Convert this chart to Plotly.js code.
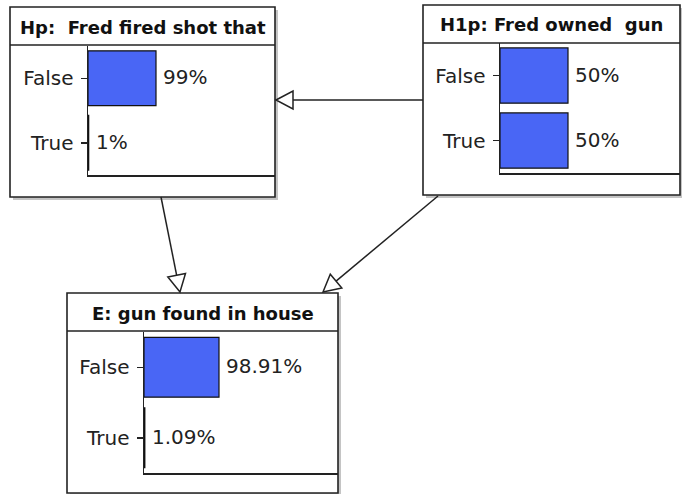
<!DOCTYPE html>
<html>
<head>
<meta charset="utf-8">
<script src="https://cdn.plot.ly/plotly-3.0.1.min.js"></script>
<style>html,body{margin:0;padding:0;background:#fff;}#chart{width:682px;height:494px;}</style>
</head>
<body>
<div id="chart"></div>
<script>
// ---- data ----
const states = ['False', 'True'];
const hpTitle = 'Hp:  Fred fired shot that';
const h1pTitle = 'H1p: Fred owned  gun';
const eTitle = 'E: gun found in house';
const hpValues = [99, 1];
const h1pValues = [50, 50];
const eValues = [98.91, 1.09];

// ---- layout geometry (pixels) ----
const W = 682, H = 494;
const px = x => x / W;
const py = y => 1 - y / H;
const ink = '#222';
const barColor = '#4966F5';

const nodeDefs = [
  {title: hpTitle, values: hpValues, box: [10, 7, 275, 197], sep: 45, plot: [88, 46, 275, 175], barPx: 68, ref: 99, ax: ''},
  {title: h1pTitle, values: h1pValues, box: [423, 5, 680, 195], sep: 43, plot: [500, 43, 680, 173], barPx: 68, ref: 50, ax: '2'},
  {title: eTitle, values: eValues, box: [67, 293, 338, 493], sep: 331, plot: [144, 332, 338, 473], barPx: 75, ref: 98.91, ax: '3'}
];

const shapes = [];
const annotations = [];
const traces = [];
const layout = {
  width: W, height: H,
  margin: {l: 0, r: 0, t: 0, b: 0},
  paper_bgcolor: '#fff',
  plot_bgcolor: 'rgba(0,0,0,0)',
  showlegend: false,
  shapes: shapes,
  annotations: annotations
};

nodeDefs.forEach(n => {
  const [bx0, by0, bx1, by1] = n.box;
  // shadow
  shapes.push({type: 'rect', xref: 'paper', yref: 'paper', layer: 'below',
    x0: px(bx0 + 3), x1: px(bx1 + 3), y0: py(by1 + 3), y1: py(by0 + 3),
    fillcolor: '#c4c4c4', line: {width: 0}});
  // box
  shapes.push({type: 'rect', xref: 'paper', yref: 'paper', layer: 'below',
    x0: px(bx0), x1: px(bx1), y0: py(by1), y1: py(by0),
    fillcolor: '#fff', line: {color: ink, width: 1.6}});
  // title separator
  shapes.push({type: 'line', xref: 'paper', yref: 'paper', layer: 'below',
    x0: px(bx0), x1: px(bx1), y0: py(n.sep), y1: py(n.sep),
    line: {color: ink, width: 1.4}});
  // title
  annotations.push({xref: 'paper', yref: 'paper', x: px((bx0 + bx1) / 2), y: py((by0 + n.sep) / 2 + 1),
    xanchor: 'center', yanchor: 'middle', showarrow: false,
    text: '<b>' + n.title.replace(/  /g, ' \u00a0') + '</b>',
    font: {family: 'DejaVu Sans', size: 18, color: '#111'}});

  const [ax0, ay0, ax1, ay1] = n.plot;
  const xmax = (ax1 - ax0) * n.ref / n.barPx;
  const xa = 'x' + n.ax, ya = 'y' + n.ax;
  layout['xaxis' + n.ax] = {
    domain: [px(ax0), px(ax1)], range: [0, xmax], anchor: ya,
    showline: true, linecolor: ink, linewidth: 1.5, showticklabels: false, ticks: '',
    showgrid: false, zeroline: false, fixedrange: true
  };
  layout['yaxis' + n.ax] = {
    domain: [py(ay1), py(ay0)], anchor: xa, type: 'category',
    categoryorder: 'array', categoryarray: states, range: [1.5, -0.5],
    showline: true, linecolor: ink, linewidth: 1.5,
    ticks: 'outside', ticklen: 6, tickwidth: 1.5, tickcolor: ink, ticklabelstandoff: 3,
    tickfont: {family: 'DejaVu Sans', size: 20, color: ink},
    showgrid: false, zeroline: false, fixedrange: true
  };
  traces.push({
    type: 'bar', orientation: 'h', x: n.values, y: states, xaxis: xa, yaxis: ya,
    width: 0.85, marker: {color: barColor, line: {color: '#111', width: 1.2}},
    hoverinfo: 'skip'
  });
  n.values.forEach((v, i) => {
    annotations.push({xref: xa, yref: ya, x: v, y: states[i], xanchor: 'left', yanchor: 'middle',
      xshift: 5, yshift: 1, showarrow: false, text: v + '%',
      font: {family: 'DejaVu Sans', size: 20, color: ink}});
  });
});

// ---- arrows (pixel geometry) ----
const arrows = [
  {from: [423, 100], to: [276, 100]},
  {from: [161, 197], to: [180, 292]},
  {from: [438, 196], to: [323, 292]}
];
arrows.forEach(a => {
  const [sx, sy] = a.from, [tx, ty] = a.to;
  const dx = tx - sx, dy = ty - sy, len = Math.hypot(dx, dy);
  const ux = dx / len, uy = dy / len;
  const L = 17, w = 9;
  const bx = tx - L * ux, by = ty - L * uy;
  const c1 = [bx - w * uy, by + w * ux], c2 = [bx + w * uy, by - w * ux];
  shapes.push({type: 'line', xref: 'paper', yref: 'paper', layer: 'below',
    x0: px(sx), y0: py(sy), x1: px(bx), y1: py(by), line: {color: ink, width: 1.5}});
  shapes.push({type: 'path', xref: 'paper', yref: 'paper', layer: 'below',
    path: `M ${px(tx)} ${py(ty)} L ${px(c1[0])} ${py(c1[1])} L ${px(c2[0])} ${py(c2[1])} Z`,
    fillcolor: '#fff', line: {color: ink, width: 1.5}});
});

Plotly.newPlot('chart', traces, layout, {displayModeBar: false, staticPlot: true});
</script>
</body>
</html>
